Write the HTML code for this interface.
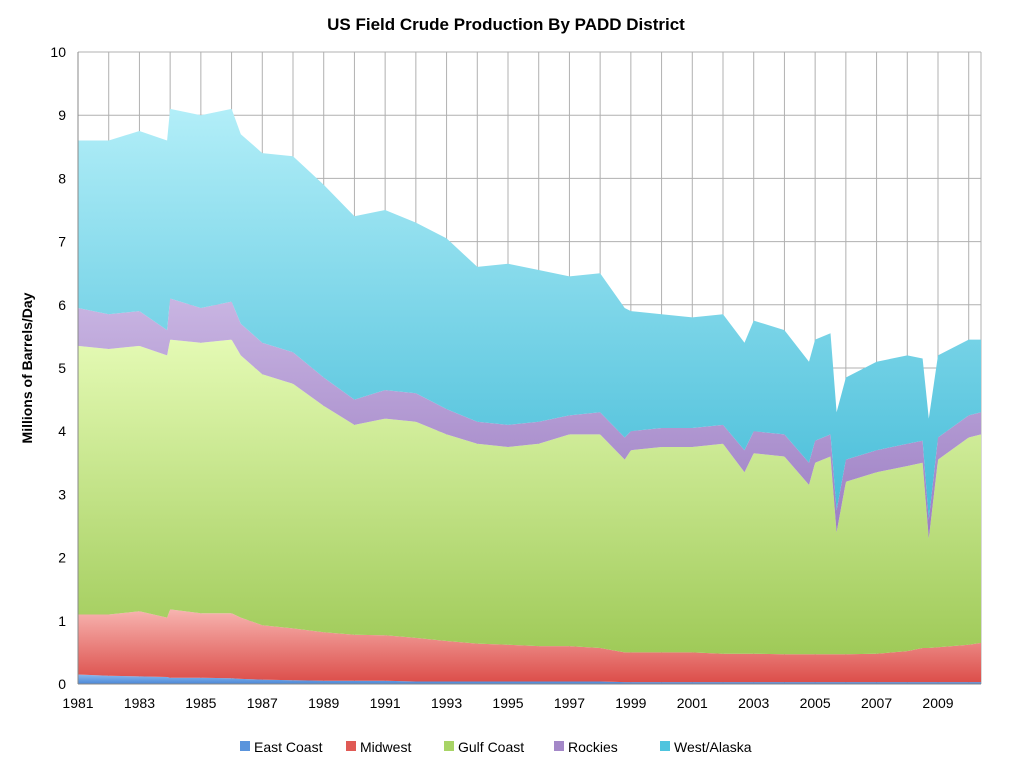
<!DOCTYPE html>
<html><head><meta charset="utf-8"><style>
body{margin:0;background:#fff;}
svg text{font-family:"Liberation Sans",sans-serif;}
</style></head><body>
<svg id="c" width="1012" height="768" xmlns="http://www.w3.org/2000/svg">
<defs>
<linearGradient id="gW" x1="0" y1="0" x2="0" y2="1"><stop offset="0" stop-color="#b2eef8"/><stop offset="1" stop-color="#45bcd8"/></linearGradient>
<linearGradient id="gR" x1="0" y1="0" x2="0" y2="1"><stop offset="0" stop-color="#c9b5e2"/><stop offset="1" stop-color="#9a7cc2"/></linearGradient>
<linearGradient id="gG" x1="0" y1="0" x2="0" y2="1"><stop offset="0" stop-color="#e4fab4"/><stop offset="1" stop-color="#9fca58"/></linearGradient>
<linearGradient id="gM" x1="0" y1="0" x2="0" y2="1"><stop offset="0" stop-color="#f7b4b0"/><stop offset="1" stop-color="#dc4e4a"/></linearGradient>
<linearGradient id="gE" x1="0" y1="0" x2="0" y2="1"><stop offset="0" stop-color="#8cb8ec"/><stop offset="1" stop-color="#4a88d8"/></linearGradient>
</defs>
<text x="506" y="30" text-anchor="middle" font-size="17" font-weight="bold">US Field Crude Production By PADD District</text>
<text transform="translate(32,368) rotate(-90)" text-anchor="middle" font-size="14" font-weight="bold">Millions of Barrels/Day</text>
<g id="grid"></g>
<g id="areas"></g>
<g id="axes"></g>
<g id="legend"></g>
</svg>
<script>
const times=[1981,1982,1983,1983.9,1984,1985,1986,1986.3,1987,1988,1989,1990,1991,1992,1993,1994,1995,1996,1997,1998,1998.8,1999,2000,2001,2002,2002.7,2003,2004,2004.8,2005,2005.5,2005.7,2006,2007,2008,2008.5,2008.7,2009,2010,2010.4];
const eastCoast=[.15,.13,.12,.11,.1,.1,.09,.08,.07,.06,.05,.05,.05,.04,.04,.04,.04,.04,.04,.04,.03,.03,.03,.03,.03,.03,.03,.03,.03,.03,.03,.03,.03,.03,.03,.03,.03,.03,.03,.03];
const midwest=[.95,.97,1.03,.94,1.08,1.02,1.03,.97,.86,.82,.77,.73,.72,.69,.64,.60,.58,.56,.56,.53,.47,.47,.47,.47,.45,.45,.45,.44,.44,.44,.44,.44,.44,.45,.49,.54,.54,.55,.59,.62];
const gulfCoast=[4.25,4.2,4.2,4.15,4.27,4.28,4.33,4.15,3.97,3.87,3.58,3.32,3.43,3.42,3.27,3.16,3.13,3.2,3.35,3.38,3.05,3.2,3.25,3.25,3.32,2.87,3.17,3.13,2.68,3.03,3.13,1.93,2.73,2.87,2.93,2.93,1.73,2.97,3.28,3.3];
const rockies=[.6,.55,.55,.4,.65,.55,.6,.5,.5,.5,.45,.4,.45,.45,.4,.35,.35,.35,.3,.35,.35,.3,.3,.3,.3,.35,.35,.35,.35,.35,.35,.35,.35,.35,.35,.35,.3,.35,.35,.35];
const westAlaska=[2.65,2.75,2.85,3.0,3.0,3.05,3.05,3.0,3.0,3.1,3.05,2.9,2.85,2.7,2.7,2.45,2.55,2.4,2.2,2.2,2.05,1.9,1.8,1.75,1.75,1.7,1.75,1.65,1.6,1.6,1.6,1.55,1.3,1.4,1.4,1.3,1.6,1.3,1.2,1.15];
const yTicks=[0,1,2,3,4,5,6,7,8,9,10];
const xLabels=[1981,1983,1985,1987,1989,1991,1993,1995,1997,1999,2001,2003,2005,2007,2009];
const seriesNames=["East Coast","Midwest","Gulf Coast","Rockies","West/Alaska"];
const seriesData=[eastCoast,midwest,gulfCoast,rockies,westAlaska];
const fills=["url(#gE)","url(#gM)","url(#gG)","url(#gR)","url(#gW)"];
const legendColors=["#5a94dc","#e05a55","#a8d466","#a488c8","#4ec4de"];
const X0=78,X1=981,Y0=684,Y1=52,T0=1981,T1=2010.4;
const xs=t=>X0+(t-T0)/(T1-T0)*(X1-X0);
const ys=v=>Y0-v/10*(Y0-Y1);
const NS="http://www.w3.org/2000/svg";
function mk(tag,attrs,parent){const e=document.createElementNS(NS,tag);for(const k in attrs)e.setAttribute(k,attrs[k]);parent.appendChild(e);return e;}
const grid=document.getElementById('grid'),areas=document.getElementById('areas'),axes=document.getElementById('axes'),legend=document.getElementById('legend');
for(let y=1981;y<=2010;y++){const l=mk('line',{x1:xs(y),x2:xs(y),y1:Y1,y2:Y0,stroke:'#b0b0b0','stroke-width':1},grid);

}
yTicks.forEach(v=>{const l=mk('line',{x1:X0,x2:X1,y1:ys(v),y2:ys(v),stroke:'#b0b0b0','stroke-width':1},grid);


const t=mk('text',{x:X0-12,y:ys(v)+5,'text-anchor':'end','font-size':14},axes);t.textContent=v;

});
mk('line',{x1:X1,x2:X1,y1:Y1,y2:Y0,stroke:'#b0b0b0'},grid);
const cum=times.map(()=>0);
seriesData.forEach((s,i)=>{const lo=cum.slice();s.forEach((v,j)=>cum[j]+=v);
let d='M'+times.map((t,j)=>xs(t).toFixed(1)+','+ys(cum[j]).toFixed(1)).join('L');
for(let j=times.length-1;j>=0;j--)d+='L'+xs(times[j]).toFixed(1)+','+ys(lo[j]).toFixed(1);
const p=mk('path',{d:d+'Z',fill:fills[i]},areas);

});
mk('line',{x1:X0,x2:X0,y1:Y1,y2:Y0,stroke:'#888'},axes);
mk('line',{x1:X0,x2:X1,y1:Y0,y2:Y0,stroke:'#888'},axes);
xLabels.forEach(y=>{const t=mk('text',{x:xs(y),y:Y0+24,'text-anchor':'middle','font-size':14},axes);t.textContent=y;

});
const lx=[240,346,444,554,660];
seriesNames.forEach((n,i)=>{const g=mk('g',{},legend);


mk('rect',{x:lx[i],y:741,width:10,height:10,fill:legendColors[i]},g);
const t=mk('text',{x:lx[i]+14,y:752,'font-size':14},g);t.textContent=n;});
</script>
</body></html>
